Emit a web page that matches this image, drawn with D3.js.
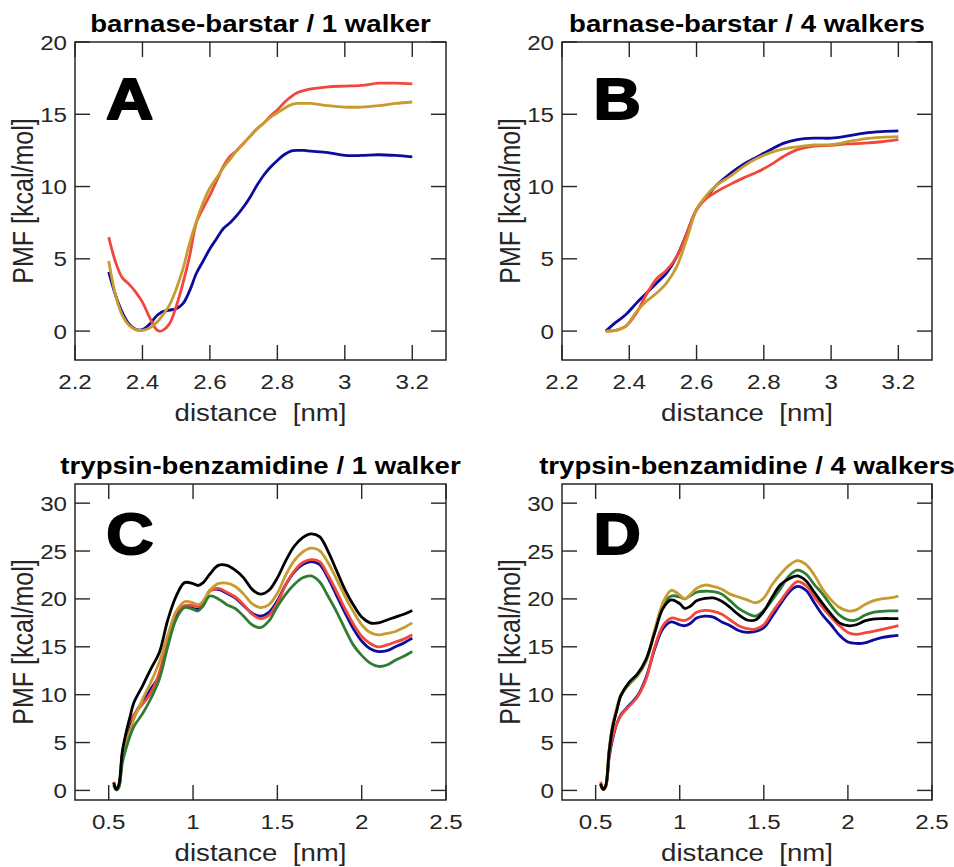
<!DOCTYPE html>
<html>
<head>
<meta charset="utf-8">
<script src="https://cdn.jsdelivr.net/npm/d3@7"></script>
<style>
  body { margin: 0; background: #fff; }
  svg text { font-family: "Liberation Sans", Arial, Helvetica, sans-serif; }
</style>
</head>
<body>
<div id="chart"></div>
<script>
// ---- data: barnase-barstar (distance in nm, PMF in kcal/mol)
var xA = [2.30, 2.32, 2.34, 2.36, 2.38, 2.40, 2.42, 2.44, 2.45, 2.46, 2.48, 2.50, 2.52, 2.54, 2.56, 2.58, 2.60, 2.62, 2.64, 2.66, 2.68, 2.70, 2.72, 2.74, 2.76, 2.78, 2.80, 2.82, 2.84, 2.86, 2.88, 2.90, 2.95, 3.00, 3.05, 3.10, 3.15, 3.20];
var blueA = [4.1, 2.5, 1.3, 0.5, 0.12, 0.1, 0.45, 1.0, 1.2, 1.35, 1.45, 1.55, 1.9, 2.8, 4.0, 4.85, 5.7, 6.4, 7.1, 7.5, 8.0, 8.6, 9.3, 10.1, 10.8, 11.35, 11.8, 12.2, 12.45, 12.5, 12.5, 12.45, 12.35, 12.15, 12.15, 12.2, 12.15, 12.05];
var redA  = [6.5, 4.8, 3.7, 3.25, 2.7, 2.0, 1.0, 0.15, 0.0, 0.05, 0.5, 1.7, 3.3, 5.2, 7.5, 8.5, 9.4, 10.4, 11.4, 12.1, 12.5, 13.0, 13.5, 14.0, 14.4, 14.9, 15.3, 15.8, 16.2, 16.5, 16.65, 16.75, 16.9, 16.95, 17.0, 17.15, 17.15, 17.1];
var goldA = [4.85, 2.5, 1.1, 0.4, 0.1, 0.05, 0.2, 0.55, 0.8, 1.1, 1.8, 2.9, 4.3, 6.1, 7.6, 8.9, 9.9, 10.6, 11.3, 11.9, 12.5, 13.0, 13.5, 14.0, 14.4, 14.8, 15.1, 15.4, 15.65, 15.75, 15.75, 15.75, 15.6, 15.5, 15.5, 15.6, 15.75, 15.85];

var xB = [2.33, 2.36, 2.39, 2.42, 2.45, 2.48, 2.51, 2.54, 2.57, 2.60, 2.63, 2.66, 2.70, 2.74, 2.78, 2.82, 2.86, 2.90, 2.95, 3.00, 3.05, 3.10, 3.15, 3.20];
var blueB = [0.0, 0.6, 1.15, 1.9, 2.6, 3.3, 4.0, 5.1, 6.7, 8.4, 9.3, 10.1, 10.9, 11.55, 12.05, 12.55, 13.0, 13.25, 13.35, 13.35, 13.5, 13.7, 13.8, 13.85];
var redB  = [0.0, 0.05, 0.35, 1.2, 2.5, 3.6, 4.2, 5.1, 6.7, 8.4, 9.2, 9.65, 10.15, 10.6, 11.0, 11.5, 12.1, 12.55, 12.8, 12.85, 12.95, 13.0, 13.1, 13.25];
var goldB = [0.0, 0.05, 0.35, 1.3, 2.05, 2.6, 3.3, 4.4, 6.3, 8.4, 9.4, 10.1, 10.7, 11.4, 11.95, 12.35, 12.6, 12.75, 12.88, 12.9, 13.1, 13.3, 13.4, 13.45];

// ---- data: trypsin-benzamidine
var xC = [0.53, 0.545, 0.56, 0.58, 0.60, 0.625, 0.65, 0.70, 0.75, 0.80, 0.85, 0.90, 0.95, 1.00, 1.03, 1.06, 1.10, 1.15, 1.20, 1.25, 1.30, 1.35, 1.40, 1.45, 1.50, 1.55, 1.60, 1.65, 1.70, 1.75, 1.80, 1.85, 1.90, 1.95, 2.00, 2.05, 2.10, 2.15, 2.20, 2.25, 2.30];
var blueC  = [0.6, 0.1, 0.4, 3.5, 5.4, 6.9, 7.8, 9.3, 10.6, 12.0, 15.4, 18.4, 19.2, 19.0, 18.9, 19.3, 20.9, 21.0, 20.6, 20.1, 19.3, 18.5, 18.2, 18.6, 19.8, 21.5, 22.8, 23.6, 23.9, 23.6, 22.2, 20.4, 18.6, 16.9, 15.6, 14.8, 14.5, 14.6, 15.0, 15.4, 15.9];
var redC   = [0.9, 0.1, 0.4, 3.8, 5.6, 7.3, 7.9, 9.0, 10.2, 12.3, 15.7, 18.6, 19.3, 19.3, 19.2, 19.5, 20.8, 21.1, 20.7, 20.2, 19.4, 18.4, 17.95, 18.3, 19.6, 21.5, 22.9, 23.8, 24.1, 23.9, 22.5, 20.8, 19.0, 17.4, 16.1, 15.35, 15.0, 15.2, 15.5, 15.8, 16.25];
var goldC  = [0.8, 0.1, 0.5, 3.5, 4.8, 6.1, 7.5, 9.5, 11.3, 13.4, 16.2, 18.7, 19.7, 19.6, 19.4, 19.8, 20.9, 21.6, 21.65, 21.3, 20.5, 19.5, 19.1, 19.4, 20.6, 22.5, 24.0, 24.9, 25.3, 25.05, 23.8, 22.1, 20.3, 18.7, 17.3, 16.5, 16.25, 16.4, 16.6, 17.0, 17.5];
var greenC = [0.5, 0.05, 0.3, 2.8, 4.2, 5.6, 6.7, 8.0, 9.6, 11.6, 15.0, 17.9, 19.1, 18.9, 18.75, 19.3, 20.3, 20.0, 19.4, 19.0, 18.2, 17.3, 17.0, 17.7, 19.2, 20.5, 21.5, 22.2, 22.4, 21.8, 20.3, 18.7, 16.9, 15.2, 14.1, 13.3, 12.95, 13.1, 13.6, 14.0, 14.5];
var blackC = [0.8, 0.1, 0.6, 4.0, 5.8, 7.6, 9.2, 10.9, 12.7, 14.4, 17.8, 20.3, 21.7, 21.6, 21.4, 21.7, 22.6, 23.5, 23.5, 23.0, 22.2, 21.0, 20.5, 20.9, 22.2, 24.0, 25.5, 26.4, 26.8, 26.5, 25.0, 23.0, 21.0, 19.4, 18.1, 17.5, 17.5, 17.8, 18.1, 18.4, 18.8];

var xD = xC;
var blueD  = [0.6, 0.1, 0.4, 3.4, 5.3, 6.9, 7.9, 8.9, 9.9, 11.8, 14.7, 16.9, 17.6, 17.3, 17.2, 17.4, 18.0, 18.2, 18.1, 17.6, 17.2, 16.7, 16.5, 16.6, 17.0, 18.2, 19.5, 20.7, 21.3, 20.9, 19.6, 18.3, 17.3, 16.2, 15.5, 15.35, 15.4, 15.7, 15.95, 16.1, 16.2];
var redD   = [0.9, 0.1, 0.4, 3.6, 5.5, 6.9, 7.8, 8.8, 9.8, 11.6, 14.9, 17.2, 18.0, 17.8, 17.75, 18.0, 18.6, 18.8, 18.7, 18.4, 17.8, 17.2, 16.9, 16.85, 17.3, 18.6, 19.8, 21.0, 21.8, 21.4, 20.2, 19.1, 18.1, 17.2, 16.5, 16.3, 16.45, 16.6, 16.8, 17.0, 17.2];
var greenD = [0.6, 0.1, 0.5, 4.1, 6.6, 8.4, 9.9, 11.1, 12.0, 13.5, 16.5, 19.3, 20.3, 20.2, 20.0, 20.3, 20.7, 20.8, 20.75, 20.5, 19.8, 19.0, 18.5, 18.2, 18.8, 19.9, 21.1, 22.4, 23.0, 22.6, 21.5, 20.5, 19.3, 18.3, 17.8, 17.8, 18.3, 18.6, 18.7, 18.75, 18.75];
var goldD  = [0.7, 0.1, 0.5, 4.2, 6.8, 8.6, 10.0, 11.2, 12.1, 13.6, 16.7, 19.6, 20.9, 20.4, 20.0, 20.4, 21.1, 21.45, 21.3, 21.0, 20.5, 20.2, 19.9, 19.6, 20.1, 21.5, 22.6, 23.5, 24.0, 23.6, 22.5, 21.0, 19.9, 19.1, 18.75, 18.85, 19.4, 19.8, 20.0, 20.1, 20.3];
var blackD = [0.7, 0.1, 0.5, 4.0, 6.5, 8.3, 9.9, 11.3, 12.2, 13.7, 16.4, 19.0, 19.9, 19.5, 19.0, 19.2, 19.8, 20.05, 20.1, 19.75, 19.1, 18.35, 17.8, 17.8, 18.7, 20.2, 21.5, 22.1, 22.4, 21.9, 20.7, 19.5, 18.4, 17.5, 17.2, 17.3, 17.7, 17.9, 17.95, 17.95, 17.95];

// ---- ticks and labels
var ticksXbb = [2.2, 2.4, 2.6, 2.8, 3.0, 3.2];
var ticksYbb = [0, 5, 10, 15, 20];
var ticksXtb = [0.5, 1, 1.5, 2, 2.5];
var ticksYtb = [0, 5, 10, 15, 20, 25, 30];
var titles = ["barnase-barstar / 1 walker", "barnase-barstar / 4 walkers", "trypsin-benzamidine / 1 walker", "trypsin-benzamidine / 4 walkers"];
var letters = ["A", "B", "C", "D"];

var colors = { blue: "#0c0c9c", red: "#f2473d", gold: "#c79b2f", green: "#2f7d32", black: "#000000" };

var W = 954, H = 867;
var SX = 1.15;   // text in the figure is a bit wider than the font
var axisColor = "#262626";

var panels = [
  { left: 75,  top: 42,  w: 371, h: 318, xd: [2.2, 3.3], yd: [-2, 20], xt: ticksXbb, yt: ticksYbb, x: xA,
    series: [["blue", blueA], ["red", redA], ["gold", goldA]], letterAt: [2.292, 14.7] },
  { left: 562, top: 42,  w: 370, h: 318, xd: [2.2, 3.3], yd: [-2, 20], xt: ticksXbb, yt: ticksYbb, x: xB,
    series: [["blue", blueB], ["red", redB], ["gold", goldB]], letterAt: [2.294, 14.7] },
  { left: 75,  top: 484, w: 371, h: 316, xd: [0.3, 2.5], yd: [-1, 32], xt: ticksXtb, yt: ticksYtb, x: xC,
    series: [["blue", blueC], ["red", redC], ["gold", goldC], ["green", greenC], ["black", blackC]], letterAt: [0.485, 24.7] },
  { left: 562, top: 484, w: 370, h: 316, xd: [0.3, 2.5], yd: [-1, 32], xt: ticksXtb, yt: ticksYtb, x: xD,
    series: [["blue", blueD], ["red", redD], ["green", greenD], ["gold", goldD], ["black", blackD]], letterAt: [0.487, 24.7] }
];

var svg = d3.select("#chart").append("svg").attr("width", W).attr("height", H);

// stretched text helper
function stext(g, x, y, str, size, opts) {
  opts = opts || {};
  var t = g.append("text")
    .attr("transform", "translate(" + x + "," + y + ")" + (opts.rotate ? " rotate(" + opts.rotate + ") scale(1," + SX + ")" : " scale(" + SX + ",1)"))
    .attr("text-anchor", opts.anchor || "middle")
    .attr("font-size", size)
    .attr("font-weight", opts.weight || "normal")
    .attr("fill", opts.fill || axisColor)
    .style("white-space", "pre")
    .text(str);
  if (opts.dy) t.attr("dy", opts.dy);
  return t;
}

panels.forEach(function(p, i) {
  var x = d3.scaleLinear().domain(p.xd).range([0, p.w]);
  var y = d3.scaleLinear().domain(p.yd).range([p.h, 0]);
  var g = svg.append("g").attr("transform", "translate(" + p.left + "," + p.top + ")");
  var tl = 15;

  // curves
  var line = d3.line().curve(d3.curveCatmullRom.alpha(0.5))
    .x(function(d) { return x(d[0]); }).y(function(d) { return y(d[1]); });
  p.series.forEach(function(s) {
    g.append("path")
      .datum(p.x.map(function(v, k) { return [v, s[1][k]]; }))
      .attr("d", line)
      .attr("fill", "none")
      .attr("stroke", colors[s[0]])
      .attr("stroke-width", 2.8)
      .attr("stroke-linejoin", "round");
  });

  // inward ticks on all four sides
  var tk = g.append("g").attr("stroke", axisColor).attr("stroke-width", 1.4);
  p.xt.forEach(function(v) {
    tk.append("line").attr("x1", x(v)).attr("x2", x(v)).attr("y1", p.h).attr("y2", p.h - tl);
    tk.append("line").attr("x1", x(v)).attr("x2", x(v)).attr("y1", 0).attr("y2", tl);
    stext(g, x(v), p.h + 29, String(v), 21);
  });
  p.yt.forEach(function(v) {
    tk.append("line").attr("x1", 0).attr("x2", tl).attr("y1", y(v)).attr("y2", y(v));
    tk.append("line").attr("x1", p.w).attr("x2", p.w - tl).attr("y1", y(v)).attr("y2", y(v));
    stext(g, -8, y(v), String(v), 21, { anchor: "end", dy: "0.36em" });
  });

  // box
  g.append("rect").attr("width", p.w).attr("height", p.h)
    .attr("fill", "none").attr("stroke", axisColor).attr("stroke-width", 1.5);

  // axis labels
  stext(g, p.w / 2, p.h + 61, "distance  [nm]", 24);
  stext(g, -42, p.h / 2, "PMF [kcal/mol]", 25, { rotate: -90 });

  // title + panel letter
  stext(g, p.w / 2, -10, titles[i], 24, { weight: "bold", fill: "#000" });
  stext(g, x(p.letterAt[0]), y(p.letterAt[1]), letters[i], 57, { weight: "bold", fill: "#000", anchor: "start" })
    .attr("stroke", "#000").attr("stroke-width", 2).attr("stroke-linejoin", "round");
});
</script>
</body>
</html>
